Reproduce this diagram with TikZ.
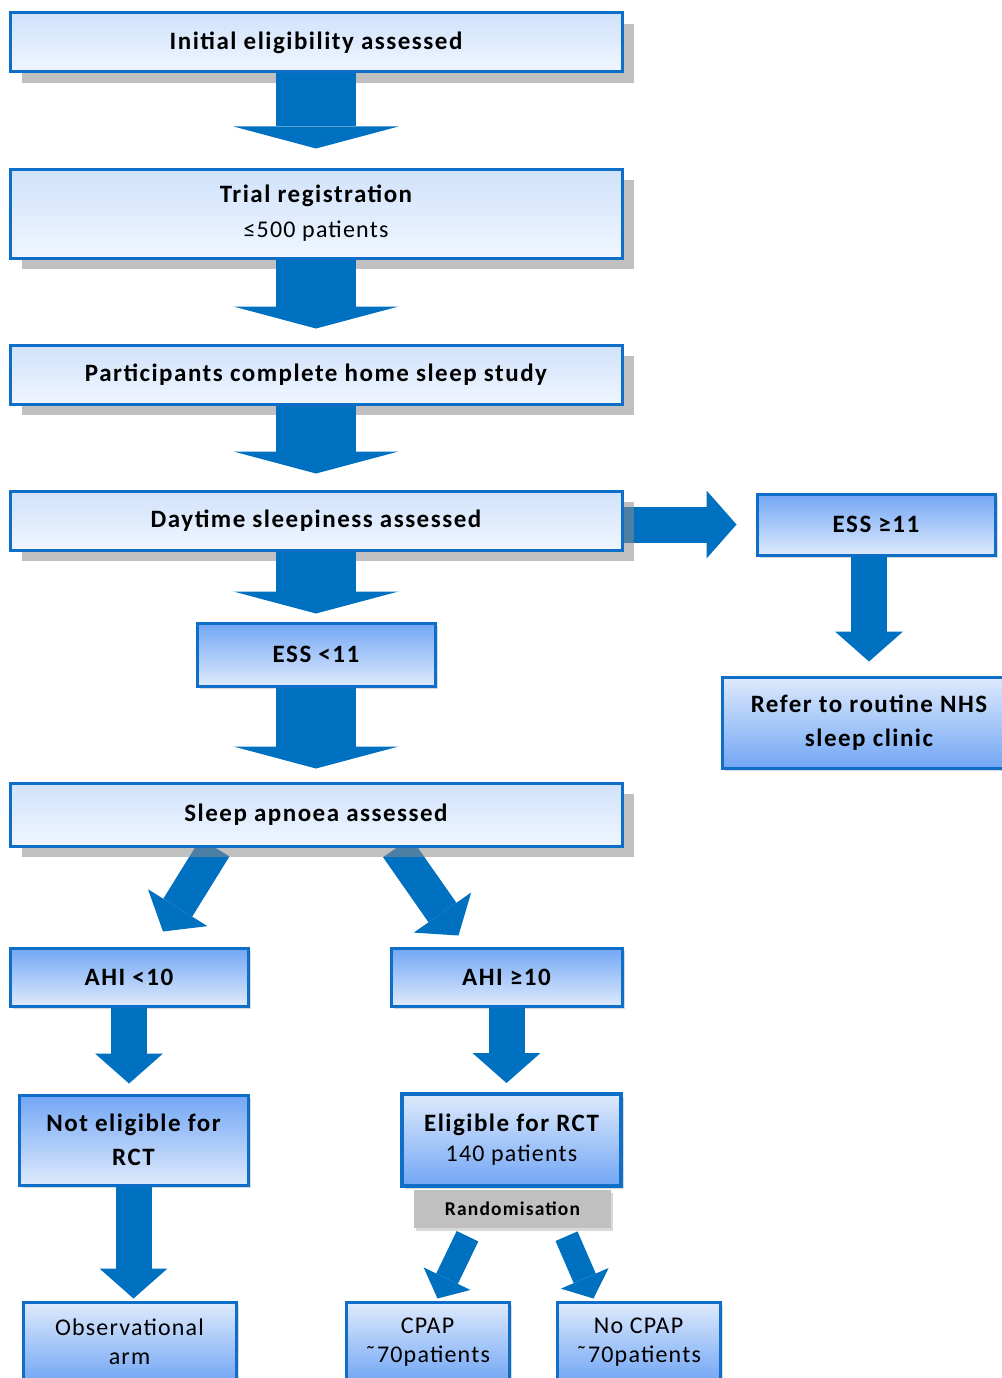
\documentclass[tikz,border=0pt]{standalone}
\usepackage{fontspec}
\setmainfont{Carlito}[LetterSpace=5, BoldFeatures={LetterSpace=6}]
\usetikzlibrary{arrows.meta,shadows}
\pgfdeclarelayer{bg}
\pgfsetlayers{bg,main}
\definecolor{arrblue}{RGB}{0,112,192}
\definecolor{lineblue}{RGB}{14,110,200}
\definecolor{bigtop}{RGB}{208,226,251}
\definecolor{bigbot}{RGB}{240,246,255}
\definecolor{smalldark}{RGB}{114,166,245}
\definecolor{smalllight}{RGB}{222,234,252}
\definecolor{randgrey}{RGB}{192,192,192}

\begin{document}
\begin{tikzpicture}[x=1pt,y=-1pt,
    bigbox/.style={draw=lineblue, line width=3pt, top color=bigtop, bottom color=bigbot,
      minimum width=612pt, align=center, font=\fontsize{25}{35}\selectfont\bfseries,
      drop shadow={shadow xshift=12pt, shadow yshift=-11pt, fill=black!45, opacity=.55}},
    smallbox/.style={draw=lineblue, line width=3pt, align=center,
      font=\fontsize{25}{34}\selectfont\bfseries,
      drop shadow={shadow xshift=3pt, shadow yshift=-3pt, fill=black!50, opacity=.3}},
    darktop/.style={smallbox, top color=smalldark, bottom color=smalllight},
    lighttop/.style={smallbox, top color=smalllight, bottom color=smalldark},
    plain/.style={font=\fontsize{24}{29}\selectfont},
    bigarr/.style={draw=arrblue, line width=80pt, -{Triangle[width=165pt,length=22pt,line width=0pt]}},
    smallarr/.style={draw=arrblue, line width=36pt, -{Triangle[width=68pt,length=30pt,line width=0pt]}},
    diagarr/.style={draw=arrblue, line width=34pt, -{Triangle[width=70pt,length=28pt,line width=0pt]}},
    randarr/.style={draw=arrblue, line width=24pt, -{Triangle[width=52pt,length=22pt,line width=0pt]}}]
        \useasboundingbox (0,0) rectangle (1001,1378);

        % main column
        \node[bigbox, minimum height=59pt] (init) at (316,42.5) {Initial eligibility assessed};
        \node[bigbox, minimum height=89pt] (reg) at (316,213.5) {Trial registration\\{\mdseries\fontsize{24}{35}\selectfont ≤500 patients}};
        \node[bigbox, minimum height=59pt] (home) at (316,374.5) {Participants complete home sleep study};
        \node[bigbox, minimum height=59pt] (day) at (316,520.5) {Daytime sleepiness assessed};
        \node[darktop, minimum width=238pt, minimum height=63pt] (essl) at (316,654.5) {ESS <11};
        \node[bigbox, minimum height=63pt] (sleep) at (316,814.5) {Sleep apnoea assessed};

        % right column
        \node[darktop, minimum width=238pt, minimum height=61pt] (essh) at (876,524.5) {ESS ≥11};
        \node[lighttop, minimum width=294pt, minimum height=91pt] (refer) at (869,722.5) {Refer to routine NHS\\sleep clinic};

        % AHI split
        \node[darktop, minimum width=238pt, minimum height=58pt] (ahil) at (129,977) {AHI <10};
        \node[darktop, minimum width=231pt, minimum height=58pt] (ahih) at (506.5,977) {AHI ≥10};
        \node[darktop, minimum width=229pt, minimum height=90pt] (notel) at (133.5,1140) {Not eligible for\\RCT};
        \node[lighttop, line width=4pt, minimum width=219pt, minimum height=92pt] (elig) at (511.5,1140) {Eligible for RCT\\[-4pt]{\mdseries\fontsize{24}{34}\selectfont 140 patients}};
        \node[fill=randgrey, minimum width=197pt, minimum height=38pt, font=\fontsize{19.5}{20}\selectfont\bfseries,
          drop shadow={shadow xshift=2pt, shadow yshift=-3pt, fill=black!50, opacity=.3}] (rand) at (512.5,1209) {Randomisation};

        % bottom row
        \node[lighttop, plain, minimum width=213pt, minimum height=80pt] (obs) at (129.5,1342) {Observational\\arm};
        \node[lighttop, plain, minimum width=163pt, minimum height=80pt] (cpap) at (427.5,1342) {CPAP\\˜70patients};
        \node[lighttop, plain, minimum width=163pt, minimum height=80pt] (nocpap) at (638.5,1342) {No CPAP\\˜70patients};

        \draw[bigarr, shorten >=19pt] (init) -- (reg);
        \draw[bigarr, shorten >=15pt] (reg) -- (home);
        \draw[bigarr, shorten >=16pt] (home) -- (day);
        \draw[bigarr, shorten >=8pt] (day) -- (essl);
        \draw[bigarr, shorten >=13pt] (essl) -- (sleep);
        \draw[smallarr, shorten >=14pt] (refer.north |- essh.south) -- (refer.north);
        \draw[smallarr, shorten >=10pt] (ahil.south) -- (ahil.south |- notel.north);
        \draw[smallarr, shorten >=9pt] (ahih.south) -- (ahih.south |- elig.north);
        \draw[smallarr, shorten >=2pt] (notel.south) -- (notel.south |- obs.north);

        % these run under the shadows
        \begin{pgfonlayer}{bg}
        \draw[smallarr] (day.east |- essh.west) -- ([xshift=-19pt]essh.west);
        \draw[diagarr] ([xshift=-101pt]sleep.south) -- ([xshift=34pt,yshift=15pt]ahil.north);
        \draw[diagarr] ([xshift=81pt]sleep.south) -- ([xshift=-48pt,yshift=11pt]ahih.north);
        \draw[randarr] ([xshift=-45pt,yshift=-8pt]rand.south) -- ([xshift=10pt,yshift=2pt]cpap.north);
        \draw[randarr] ([xshift=54pt,yshift=-8pt]rand.south) -- ([xshift=-45pt,yshift=2pt]nocpap.north);
        \end{pgfonlayer}
    \end{tikzpicture}
\end{document}
